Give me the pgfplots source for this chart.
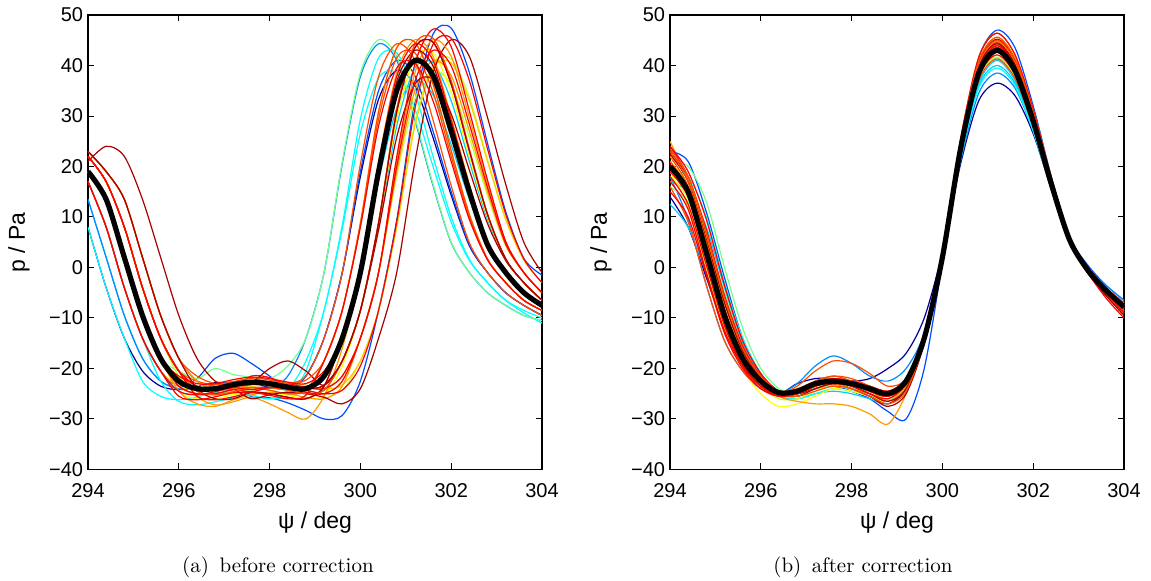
\documentclass[border=0pt]{standalone}
\usepackage{fontspec}
\setsansfont{Liberation Sans}
\usepackage{pgfplots}
\usepackage{pgfplotstable}
\pgfplotsset{compat=1.18}

\definecolor{j1}{rgb}{0,0,0.6}
\definecolor{j2}{rgb}{0,0.3,1}
\definecolor{j3}{rgb}{0,0.55,1}
\definecolor{j4}{rgb}{0,0.8,1}
\definecolor{j5}{rgb}{0,1,1}
\definecolor{j6}{rgb}{0.45,1,0.55}
\definecolor{j7}{rgb}{0.75,1,0.25}
\definecolor{j8}{rgb}{1,1,0}
\definecolor{j9}{rgb}{1,0.8,0}
\definecolor{j10}{rgb}{1,0.6,0}
\definecolor{j11}{rgb}{1,0.3,0}
\definecolor{j12}{rgb}{1,0,0}
\definecolor{j13}{rgb}{0.65,0,0}

% colours of the curves of panel (a)
\colorlet{colA1}{j1}\colorlet{colA2}{j2}\colorlet{colA3}{j3}\colorlet{colA4}{j5}
\colorlet{colA5}{j6}\colorlet{colA6}{j4}\colorlet{colA7}{j7}\colorlet{colA8}{j8}
\colorlet{colA9}{j9}\colorlet{colA10}{j10}\colorlet{colA11}{j11}\colorlet{colA12}{j12}
\colorlet{colA13}{j13}\colorlet{colA14}{j11}\colorlet{colA15}{j12}\colorlet{colA16}{j10}
\colorlet{colA17}{j13}\colorlet{colA18}{j12}\colorlet{colA19}{j11}\colorlet{colA20}{j12}
\colorlet{colA21}{j9}\colorlet{colA22}{j4}\colorlet{colA23}{j12}\colorlet{colA24}{j13}
\colorlet{colA25}{j10}\colorlet{colA26}{j5}\colorlet{colA27}{j11}\colorlet{colA28}{j12}
\colorlet{colA29}{j2}\colorlet{colA30}{j7}\colorlet{colA31}{j13}\colorlet{colA32}{j12}
% colours of the curves of panel (b)
\colorlet{colB1}{j1}\colorlet{colB2}{j2}\colorlet{colB3}{j3}\colorlet{colB4}{j4}
\colorlet{colB5}{j5}\colorlet{colB6}{j6}\colorlet{colB7}{j7}\colorlet{colB8}{j8}
\colorlet{colB9}{j9}\colorlet{colB10}{j10}\colorlet{colB11}{j11}\colorlet{colB12}{j12}
\colorlet{colB13}{j13}\colorlet{colB14}{j11}\colorlet{colB15}{j12}\colorlet{colB16}{j10}
\colorlet{colB17}{j13}\colorlet{colB18}{j12}\colorlet{colB19}{j11}\colorlet{colB20}{j12}
\colorlet{colB21}{j11}\colorlet{colB22}{j12}\colorlet{colB23}{j6}\colorlet{colB24}{j13}
\colorlet{colB25}{j10}\colorlet{colB26}{j12}\colorlet{colB27}{j4}\colorlet{colB28}{j11}

% panel (a): one row per curve
\pgfplotstableread{
id p0 p1 p2 p3 p4 p5 p6 p7 p8 p9 p10 p11 p12 p13 p14 p15 p16 p17 p18 p19 p20 p21 p22 p23 p24 p25
x 294 294.4 294.8 295.2 295.6 296 296.4 296.8 297.2 297.6 298 298.4 298.8 299.2 299.6 300 300.4 300.8 301.2 301.6 302 302.4 302.8 303.2 303.6 304
c1 8 -4 -14 -20.5 -23.5 -24.2 -23.6 -22.8 -22.8 -23 -23.7 -24 -21.5 -14 -1 18 33.3 39 36 25.7 14.3 4.3 -1 -5 -7.5 -9.5
c2 19 13.5 2 -9.5 -18 -22.5 -24 -24 -23.2 -25.6 -25.8 -26.8 -28.3 -30 -29.3 -22.5 -8.5 9.4 32.8 46.2 47.4 38.6 24.6 11.1 1.8 -1.5
c3 13.5 2 -9.5 -18 -22.5 -24 -24 -23.2 -22.7 -23.7 -24 -21.5 -14 -1 20.5 37.8 44.3 41 29.2 16.2 4.9 -1 -5 -7.5 -9.5 -10.5
c4 8 -4 -14 -22.5 -25.5 -26.2 -25.6 -24.8 -24.8 -25.3 -26 -25.3 -20.5 -8.5 7.6 26.6 37.5 38.5 31.4 20 9 1.4 -3 -6.5 -9 -11
c5 19 13.5 2 -9.5 -18 -20.5 -22 -20 -21.2 -21.7 -22 -19.5 -14 -1 20.9 38.5 45.1 41.8 29.7 16.5 5 -1 -5 -7.5 -9.5 -10.5
c6 17 8 -4 -14 -20.5 -24.5 -25.2 -24.6 -23.8 -23.8 -23.8 -24.3 -25 -24.3 -18.5 -8.5 8 28 39.5 40.5 33 21 9.5 1.5 -3 -6.5
c7 22 17 8 -4 -14 -21.5 -24.5 -25.2 -24.6 -24.2 -23.7 -24 -24.7 -25 -22.5 -14 -1 18 33.3 39 36.1 25.7 14.3 4.3 -1 -5
c8 19 13.5 2 -9.5 -18 -24.5 -26 -26 -25.2 -24.8 -24.8 -25.3 -26 -25.3 -19.5 -8.5 8.4 29.4 41.5 42.5 34.7 22 10 1.6 -3 -6.5
c9 17 8 -4 -14 -20.5 -23.5 -24.2 -23.6 -22.8 -23.6 -22.8 -22.8 -23.3 -24 -23.3 -18.5 -8.5 8 28 39.5 40.5 33 21 9.5 1.5 -3
c10 22 17 8 -4 -14 -20.5 -25.5 -27.2 -26.6 -25.7 -27 -28.7 -30 -25.5 -16 -1 20.9 38.5 45.1 41.8 29.7 16.5 5 -1 -5 -7.5
c11 19 13.5 2 -9.5 -18 -23.5 -25 -25 -24.2 -23.8 -24.3 -25 -24.3 -18.5 -8.5 8.4 29.4 41.5 42.5 34.7 22 10 1.6 -3 -6.5 -8.5
c12 23 19 13.5 2 -9.5 -18 -22.5 -24 -24 -21.5 -21.8 -23.3 -24 -23.3 -18.5 -8.5 8.8 30.8 43.5 44.6 36.3 23.1 10.5 1.7 -3 -6.5
c13 21 24 22 13.5 2 -9.5 -18 -22.5 -24 -26 -25.2 -24.7 -25 -25.7 -27 -24 -14 -1 20.9 38.5 45.1 41.8 29.7 16.5 5 -1
c14 22 17 8 -4 -14 -20.5 -22.5 -23.2 -22.6 -22 -22.7 -23 -21.5 -14 -1 20.5 37.8 44.3 41 29.2 16.2 4.9 -1 -5 -7.5 -9.5
c15 17 8 -4 -14 -20.5 -25.5 -26.2 -25.6 -24.8 -24.7 -25 -25.7 -26 -23.5 -14 -1 19 35 41 38 27 15 4.5 -1 -5 -7.5
c16 23 19 13.5 2 -9.5 -18 -22.5 -24 -24 -23.2 -22.7 -23 -23.7 -24 -21.5 -14 -1 20.9 38.5 45.1 41.8 29.7 16.5 5 -1 -5
c17 22 17 8 -4 -14 -20.5 -23.5 -24.2 -23.6 -22.8 -20 -18.5 -20.5 -23.3 -18.5 -8.5 7.4 25.8 36.3 37.3 30.4 19.3 8.7 1.4 -3 -6.5
c18 19 13.5 2 -9.5 -18 -23.5 -25 -25 -24.2 -24.6 -23.8 -23.8 -24.3 -25 -24.3 -19.5 -8.5 9 31.4 44.2 45.4 37 23.5 10.6 1.7 -3
c19 23 19 13.5 2 -9.5 -18 -21.5 -23 -23 -21.8 -22.3 -23 -22.3 -18.5 -8.5 8.8 30.8 43.5 44.6 36.3 23.1 10.5 1.7 -3 -6.5 -8.5
c20 17 8 -4 -14 -20.5 -24.5 -25.2 -24.6 -23.8 -24.2 -23.7 -24 -24.7 -25 -22.5 -14 -1 20 36.8 43 39.9 28.4 15.8 4.7 -1 -5
c21 22 17 8 -4 -14 -20.5 -24.5 -25.2 -24.6 -23.8 -24.3 -25 -24.3 -18.5 -8.5 8.8 30.8 43.5 44.6 36.3 23.1 10.5 1.7 -3 -6.5 -8.5
c22 13.5 2 -9.5 -18 -22.5 -24 -24 -23.2 -22.7 -22.7 -23 -23.7 -24 -21.5 -14 -1 17.1 31.5 36.9 34.2 24.3 13.5 4 -1 -5 -7.5
c23 22 17 8 -4 -14 -20.5 -23.5 -24.2 -23.6 -23.2 -22.7 -23 -23.7 -24 -21.5 -14 -1 21.9 40.3 47.2 43.7 31 17.3 5.2 -1 -5
c24 23 19 13.5 2 -9.5 -18 -24 -26 -26 -24.7 -25 -25.7 -26 -23.5 -14 -1 20 36.8 43 39.9 28.4 15.8 4.7 -1 -5 -7.5
c25 19 13.5 2 -9.5 -18 -24.5 -27 -27.5 -26.2 -25.2 -24.7 -25 -25.7 -26 -23.5 -14 -1 19 35 41 38 27 15 4.5 -1 -5
c26 17 8 -4 -14 -22.5 -26.5 -27.2 -26.6 -25.8 -25.3 -26 -24.3 -18.5 -8.5 8.4 29.4 41.5 42.5 34.7 22 10 1.6 -3 -6.5 -8.5 -10
c27 22 17 8 -4 -14 -20.5 -24.5 -25.2 -24.6 -23.8 -23.8 -24.3 -25 -24.3 -18.5 -8.5 9 31.4 44.2 45.4 37 23.5 10.6 1.7 -3 -6.5
c28 19 13.5 2 -9.5 -18 -21.5 -23 -23 -22.2 -21.7 -22 -22.7 -23 -20.5 -14 -1 20.5 37.8 44.3 41 29.2 16.2 4.9 -1 -5 -7.5
c29 17 8 -4 -14 -20.5 -23.5 -22 -18 -17 -19 -21.5 -24 -21.5 -14 -1 19 35 41 38 27 15 4.5 -1 -5 -7.5 -9.5
c30 23 19 13.5 2 -9.5 -18 -22.5 -25 -25 -24.6 -23.8 -23.8 -24.3 -25 -24.3 -18.5 -8.5 8.2 28.6 40.3 41.3 33.7 21.4 9.7 1.5 -3
c31 19 13.5 2 -9.5 -18 -22.5 -24 -24 -23.2 -22.8 -22.8 -23.3 -24 -23.3 -18.5 -8.5 8.8 30.8 43.5 44.6 36.3 23.1 10.5 1.7 -3 -6.5
c32 22 17 8 -4 -14 -20.5 -25.5 -26.2 -25.6 -24.8 -25.3 -26 -25.3 -18.5 -8.5 8 28 39.5 40.5 33 21 9.5 1.5 -3 -6.5 -8.5
m 19 13.5 2 -9.5 -18 -22.5 -24 -24 -23.2 -22.7 -23 -23.7 -24 -21.5 -14 -1 19 35 41 38 27 15 4.5 -1 -5 -7.5
}\rawA
\pgfplotstabletranspose[colnames from=id]{\tabA}{\rawA}

% panel (b): one row per curve
\pgfplotstableread{
id p0 p1 p2 p3 p4 p5 p6 p7 p8 p9 p10 p11 p12 p13 p14 p15 p16 p17 p18 p19 p20 p21 p22 p23 p24 p25
x 294 294.4 294.8 295.2 295.6 296 296.4 296.8 297.2 297.6 298 298.4 298.8 299.2 299.6 300 300.4 300.8 301.2 301.6 302 302.4 302.8 303.2 303.6 304
c1 14 8 -2 -12 -19.5 -23.5 -25 -23 -22 -22 -22.5 -22 -20 -17 -10 3 20.5 33 36.5 34 26.5 15.5 5 -0.5 -4.5 -8
c2 23 21 11 -2 -14 -21 -24.5 -25 -24 -23.5 -24.5 -26 -28.5 -30 -20 1 24 41.5 47 43.5 32 18 6 0.5 -3.5 -6.5
c3 18 9.5 -3.5 -14.5 -20.5 -24 -25 -23 -19.5 -17.5 -19 -21.5 -22.5 -20 -13 2.5 21 34.5 38.5 35.5 27 15.5 5.5 0 -3.5 -6.5
c4 17 15 8 -4 -15 -21.5 -25.5 -26 -25 -24.5 -25 -26 -27 -24 -15 1.5 22.5 36.5 41 37 27.5 15.5 5 -1 -5 -8.5
c5 19 18 10 -3 -14 -21 -25 -26 -25 -24 -24.5 -25.5 -26.5 -23 -13.5 3 21.5 35.5 39.5 36 27 15.5 5.5 -1 -5 -9
c6 21 20 13 0 -12 -20 -24 -25 -24 -23.5 -24 -25 -26 -23 -13 3 23.5 38.5 43 39 29 16.5 5.5 -0.5 -4.5 -7.5
c7 18 13.5 2 -10 -18.5 -23.5 -26 -26 -24.5 -23 -23.5 -25 -26 -23 -14 2 22.8 37.3 41.7 37.8 28 16 5.3 -0.5 -5 -8
c8 19 12 0 -12 -20 -25 -27.5 -27 -25.5 -24 -24.5 -25.5 -26.5 -23.5 -14 2 24.2 39.7 44.3 40.2 29.9 17 5.7 -0.5 -5 -8.5
c9 21 16 3.5 -9 -18 -22.5 -25 -25 -23.5 -22.5 -23 -24 -25 -22.5 -14 2 25 40.8 45.6 41.3 30.7 17.5 5.8 -0.5 -4.5 -7.5
c10 25 17 6 -7 -17 -22 -25.5 -26.5 -27 -27 -27.5 -29 -31 -25 -14 1.5 25.4 41.6 46.4 42.1 31.3 17.8 6 -0.5 -4.5 -7
c11 22 16 3 -9.5 -18 -23 -25 -23.5 -20.5 -18.5 -19 -21 -23.5 -22 -13.5 2.5 24.4 40 44.7 40.6 30.2 17.2 5.7 -1 -5.5 -9
c12 17 11.5 -1 -12.5 -19.5 -23.5 -25 -24.5 -23 -22 -22.5 -23.5 -24.5 -22 -14 2 24 39.3 43.9 39.8 29.6 16.8 5.5 -1 -6 -10
c13 23 17.5 6.5 -6.5 -16 -21.5 -24.5 -25 -24 -23 -24 -25.5 -27.5 -25 -15 1 24.7 40.4 45.2 41 30.5 17.3 5.8 -0.5 -5 -8
c14 16 9 -3.5 -14.5 -20.5 -24 -25.5 -24.5 -22.5 -21.5 -22.5 -24 -25.5 -23 -14.5 2 22.6 37 41.3 37.4 27.8 15.8 5.3 -1 -5.5 -9
c15 24 19 9.5 -3.5 -14.5 -21 -24.5 -24.5 -23 -22.5 -23 -24 -25 -22.5 -13.5 2.5 25.4 41.6 46.4 42.1 31.3 17.8 6 0 -4 -7
c16 20 15 3 -9.5 -18 -22.5 -24.5 -24 -22.5 -22 -23 -24.5 -26 -23 -14 2 23.7 38.9 43.4 39.4 29.3 16.7 5.5 -0.5 -4.5 -7.5
c17 22.5 17 5.5 -7 -16.5 -22 -25 -25.5 -24 -23 -23.5 -25 -26.5 -24 -14.5 1.5 24.2 39.7 44.3 40.2 29.9 17 5.7 -0.5 -5 -8.5
c18 15 10 -1.5 -13 -20 -24 -25.5 -25 -23.5 -22.5 -23 -24.5 -25.5 -23 -14 2 23 37.7 42.1 38.2 28.4 16.2 5.4 -1 -5 -9
c19 23.5 18 7 -6 -16 -21.5 -24.5 -24.5 -22.5 -21.5 -22 -23.5 -25 -22.5 -13.5 2.5 25 40.8 45.6 41.3 30.7 17.5 5.8 -0.5 -4.5 -7
c20 19 14 2.5 -10 -18.5 -23 -25 -24.5 -23 -22.5 -23.5 -25 -26 -23 -14 2 23.5 38.5 43 39 29 16.5 5.5 -0.5 -4.5 -8
c21 21 15.5 4 -8.5 -17.5 -22.5 -25 -25 -23.5 -22.5 -23 -24.5 -25.5 -23 -14 2 24 39.3 44 40 29.6 16.8 5.6 -0.5 -4.5 -8
c22 24 18 7.5 -5.5 -15.5 -21.5 -24.5 -24.5 -23 -22 -22.5 -23.5 -24.5 -22.5 -13.5 2.5 24.5 40 44.5 40.5 30 17 5.7 0 -4 -7.5
c23 16 13 6 -5 -15.5 -22 -25.5 -25.5 -24 -23 -23.5 -24.5 -25.5 -22.5 -13 3 23 37.5 41.5 38 28.5 16.5 5.8 0 -4 -7
c24 20.5 14 1.5 -11 -19 -23.5 -25.5 -25 -23.5 -23 -24 -25.5 -27 -24 -14.5 1.5 23.5 38.6 43.2 39.2 29.1 16.5 5.3 -1 -5.5 -9.5
c25 22 17.5 6 -6.5 -16.5 -22 -25 -25.5 -24 -23 -24 -25 -26.5 -23.5 -14 2 24.5 40 44.8 40.5 30 17 5.5 -0.5 -4.5 -8
c26 18 12.5 0.5 -11.5 -19.5 -23.5 -25.5 -25 -23 -22 -23 -24.5 -25.5 -23 -14 2 23.8 39 43.6 39.5 29.4 16.7 5.5 -0.5 -5 -8.5
c27 12.5 8 -1 -11.5 -19 -23.5 -25.5 -25 -24 -23.5 -24 -24.5 -25 -22.5 -13.5 2.5 22 36 40 36.5 27.5 16 5.5 -0.5 -4.5 -7.5
c28 23 17 5 -8 -17.5 -22.5 -25 -25.5 -24.5 -23.5 -24 -25.5 -27 -24.5 -14.5 1.5 24.5 40.2 45 40.8 30.3 17.2 5.6 -0.5 -5 -8.5
m 20 15 3 -9.5 -18 -22.5 -24.8 -24.5 -23 -22.5 -23 -24 -25 -22.5 -14 2 23.5 38.5 43 39 29 16.5 5.5 -0.5 -4.5 -7.8
}\rawB
\pgfplotstabletranspose[colnames from=id]{\tabB}{\rawB}

\pgfplotsset{
  pstyle/.style={
    width=227pt, height=227.25pt, scale only axis,
    xmin=294, xmax=304, ymin=-40, ymax=50,
    xtick={294,296,298,300,302,304},
    xticklabels={294,296,298,300,302,304},
    ytick={-40,-30,-20,-10,0,10,20,30,40,50},
    yticklabels={−40,−30,−20,−10,0,10,20,30,40,50},
    tick align=inside, major tick length=3pt,
    tick style={black, line width=0.5pt},
    axis line style={line width=0.7pt},
    tick label style={font=\fontsize{10}{12}\selectfont\sffamily, inner sep=2.3pt},
    xticklabel style={yshift=-4.5pt},
    xlabel={ψ / deg}, ylabel={p / Pa},
    every axis x label/.style={at={(axis description cs:0.5,-0.129)}, anchor=base,
      font=\fontsize{11.5}{13}\selectfont\sffamily},
    every axis y label/.style={at={(axis description cs:-0.1388,0.5)}, rotate=90, anchor=base,
      font=\fontsize{11.5}{13}\selectfont\sffamily},
    every axis plot/.append style={line width=0.6pt, smooth, tension=0.5},
  }
}

\begin{document}
\begin{tikzpicture}
\path[use as bounding box] (-44pt,-55.75pt) rectangle (531.5pt,234.75pt);

\begin{axis}[pstyle, at={(0pt,0pt)}, anchor=south west]
\pgfplotsinvokeforeach{1,22,29,2,3,6,26,4,5,7,30,8,9,21,10,25,11,14,12,15,13,16,17,23,18,19,24,27,20,28,31,32}{
  \addplot[colA#1] table[x=x,y=c#1]{\tabA};}
\addplot[black, line width=2.6pt] table[x=x,y=m]{\tabA};
\end{axis}

\begin{axis}[pstyle, at={(291pt,0pt)}, anchor=south west]
\pgfplotsinvokeforeach{1,2,3,4,27,5,6,23,7,8,9,10,11,21,12,13,22,14,15,24,16,25,17,18,26,19,28,20}{
  \addplot[colB#1] table[x=x,y=c#1]{\tabB};}
\addplot[black, line width=2.6pt] table[x=x,y=m]{\tabB};
\end{axis}

\node[font=\fontsize{10.5}{12}\selectfont\addfontfeatures{LetterSpace=4}, anchor=base] at (95pt,-51.75pt) {(a)\hspace{0.5em}before correction};
\node[font=\fontsize{10.5}{12}\selectfont\addfontfeatures{LetterSpace=4}, anchor=base] at (387.5pt,-51.75pt) {(b)\hspace{0.5em}after correction};
\end{tikzpicture}
\end{document}
